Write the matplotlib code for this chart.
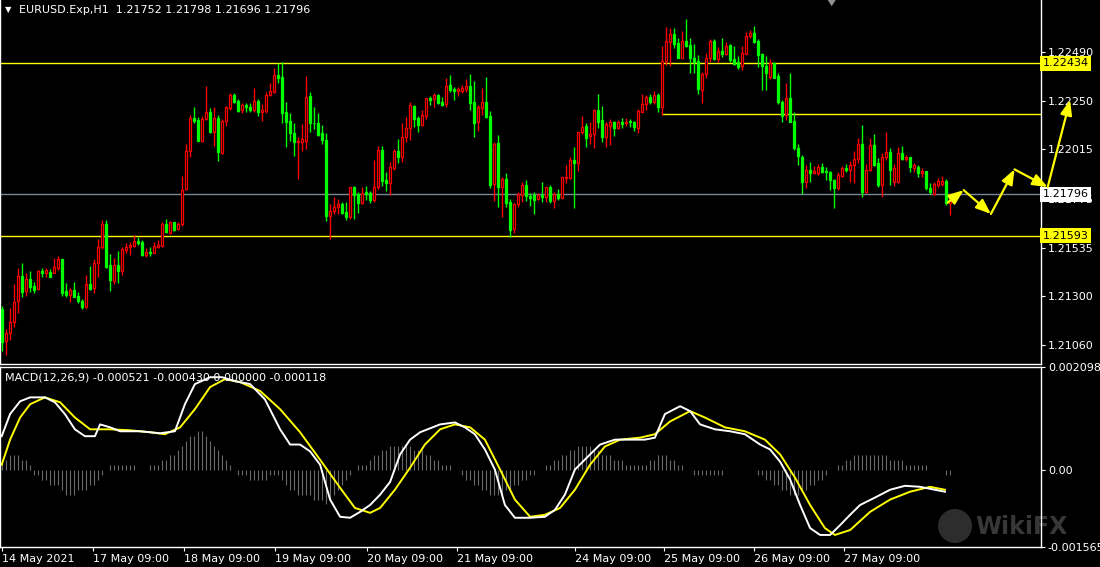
import numpy as np
import matplotlib.pyplot as plt
from matplotlib.patches import Rectangle, Ellipse, Polygon
import matplotlib.transforms as mtransforms

# ---- data (prices in points, 1 point = 0.00001) ----
chart_title = "EURUSD.Exp,H1  1.21752 1.21798 1.21696 1.21796"
macd_title = "MACD(12,26,9) -0.000521 -0.000430 0.000000 -0.000118"

opens = [
    121235, 121083, 121118, 121175, 121277, 121398, 121326, 121381, 121349, 121333,
    121424, 121411, 121415, 121414, 121438, 121480, 121324, 121305, 121329, 121300,
    121276, 121248, 121359, 121337, 121459, 121537, 121651, 121451, 121375, 121449,
    121422, 121524, 121540, 121545, 121568, 121563, 121500, 121514, 121511, 121540,
    121545, 121651, 121609, 121659, 121626, 121649, 121820, 122006, 122165, 122157,
    122057, 122161, 122195, 122101, 122165, 121995, 122152, 122214, 122279, 122250,
    122206, 122230, 122222, 122206, 122250, 122198, 122203, 122279, 122295, 122377,
    122365, 122195, 122152, 122092, 122049, 122049, 122057, 122274, 122144, 122141,
    122092, 122060, 121691, 121716, 121735, 121748, 121708, 121687, 121829, 121797,
    121751, 121805, 121800, 121768, 121829, 122011, 121865, 121852, 121925, 122006,
    121979, 122076, 122117, 122227, 122169, 122133, 122177, 122263, 122258, 122279,
    122247, 122235, 122328, 122307, 122300, 122300, 122307, 122323, 122243, 122146,
    122217, 122243, 122177, 121844, 122044, 121833, 121868, 121756, 121625, 121747,
    121792, 121841, 121789, 121792, 121773, 121792, 121784, 121830, 121765, 121796,
    121779, 121873, 121877, 121963, 121950, 122098, 122128, 122081, 122088, 122206,
    122158, 122076, 122128, 122149, 122117, 122149, 122141, 122153, 122149, 122120,
    122198, 122234, 122271, 122244, 122279, 122219, 122445, 122539, 122575, 122533,
    122461, 122542, 122523, 122458, 122445, 122304, 122380, 122458, 122542, 122455,
    122494, 122479, 122523, 122455, 122438, 122422, 122479, 122567, 122580, 122542,
    122477, 122422, 122368, 122437, 122372, 122247, 122182, 122263, 122152, 122019,
    121979, 121857, 121914, 121901, 121898, 121930, 121911, 121904, 121865, 121828,
    121886, 121922, 121914, 121938, 121966, 122040, 121808, 121914, 122036, 121946,
    121841, 121976, 122003, 121857, 121857, 121995, 121967, 121979, 121922, 121930,
    121898, 121909, 121828, 121797, 121841, 121844, 121860, 121752,
]
highs = [
    121251, 121138, 121240, 121357, 121435, 121459, 121411, 121422, 121370, 121427,
    121435, 121435, 121430, 121484, 121495, 121480, 121365, 121337, 121368, 121321,
    121284, 121402, 121446, 121479, 121576, 121670, 121670, 121505, 121484, 121519,
    121540, 121557, 121561, 121597, 121589, 121573, 121532, 121537, 121565, 121573,
    121662, 121674, 121665, 121662, 121662, 121885, 122040, 122182, 122219, 122170,
    122177, 122323, 122214, 122219, 122182, 122161, 122226, 122287, 122290, 122258,
    122238, 122238, 122238, 122315, 122258, 122234, 122295, 122339, 122409, 122437,
    122442, 122247, 122190, 122141, 122076, 122138, 122372, 122295, 122222, 122193,
    122133, 122096, 121748, 121781, 121771, 121760, 121756, 121833, 121838, 121808,
    121829, 121836, 121812, 121962, 122031, 122031, 121902, 121951, 122015, 122065,
    122141, 122170, 122245, 122230, 122177, 122206, 122263, 122274, 122287, 122284,
    122268, 122364, 122377, 122320, 122320, 122328, 122355, 122381, 122347, 122230,
    122312, 122365, 122201, 122052, 122084, 121881, 121898, 121771, 121751, 121808,
    121857, 121865, 121800, 121808, 121800, 121854, 121833, 121841, 121805, 121822,
    121882, 121938, 121979, 122024, 122101, 122177, 122141, 122146, 122211, 122284,
    122226, 122146, 122161, 122153, 122158, 122166, 122169, 122161, 122153, 122210,
    122283, 122279, 122283, 122299, 122288, 122518, 122612, 122604, 122607, 122555,
    122591, 122650, 122559, 122528, 122474, 122393, 122486, 122552, 122552, 122512,
    122559, 122536, 122526, 122520, 122471, 122518, 122585, 122596, 122615, 122552,
    122486, 122471, 122453, 122442, 122385, 122255, 122336, 122385, 122198, 122039,
    121987, 121938, 121951, 121933, 121941, 121950, 121930, 121909, 121868, 121906,
    121933, 121941, 121959, 122008, 122071, 122133, 121943, 122068, 122089, 121971,
    121995, 122101, 122019, 121943, 122027, 122031, 121987, 121979, 121950, 121938,
    121922, 121909, 121849, 121857, 121873, 121885, 121868, 121798,
]
lows = [
    121034, 121013, 121086, 121148, 121219, 121297, 121300, 121318, 121313, 121329,
    121394, 121394, 121391, 121411, 121427, 121300, 121294, 121272, 121294, 121264,
    121238, 121243, 121329, 121316, 121394, 121531, 121435, 121326, 121359, 121365,
    121402, 121508, 121500, 121540, 121549, 121495, 121488, 121495, 121508, 121532,
    121537, 121605, 121602, 121618, 121622, 121643, 121816, 121979, 122141, 122055,
    122052, 122157, 122096, 122031, 121959, 121990, 122128, 122206, 122238, 122198,
    122193, 122198, 122198, 122198, 122177, 122154, 122193, 122274, 122287, 122336,
    122144, 122027, 122057, 121984, 121868, 122006, 122018, 122101, 122114, 122079,
    122040, 121665, 121578, 121700, 121700, 121700, 121670, 121674, 121675, 121706,
    121748, 121768, 121751, 121760, 121821, 121838, 121813, 121792, 121914, 121946,
    121954, 122052, 122060, 122122, 122099, 122128, 122161, 122230, 122222, 122235,
    122227, 122219, 122295, 122255, 122276, 122287, 122295, 122206, 122076, 122105,
    122182, 122165, 121828, 121764, 121735, 121687, 121732, 121589, 121609, 121735,
    121760, 121763, 121740, 121700, 121768, 121757, 121757, 121752, 121731, 121768,
    121776, 121849, 121870, 121731, 121911, 122088, 122028, 122039, 122020, 122120,
    122052, 122028, 122036, 122081, 122114, 122117, 122128, 122125, 122104, 122096,
    122195, 122206, 122234, 122234, 122195, 122182, 122426, 122422, 122510, 122458,
    122458, 122512, 122385, 122385, 122283, 122242, 122361, 122442, 122450, 122442,
    122466, 122474, 122442, 122426, 122404, 122401, 122477, 122559, 122531, 122417,
    122304, 122304, 122355, 122360, 122235, 122149, 122157, 122149, 122011, 121938,
    121797, 121828, 121857, 121893, 121889, 121898, 121865, 121816, 121730, 121816,
    121881, 121906, 121857, 121849, 121950, 121784, 121803, 121909, 121933, 121833,
    121781, 121962, 121841, 121836, 121849, 121962, 121959, 121906, 121906, 121881,
    121878, 121816, 121797, 121792, 121833, 121838, 121743, 121696,
]
closes = [
    121078, 121118, 121175, 121272, 121398, 121321, 121381, 121346, 121329, 121422,
    121414, 121427, 121394, 121443, 121479, 121313, 121305, 121329, 121297, 121276,
    121248, 121357, 121334, 121459, 121537, 121651, 121443, 121378, 121451, 121422,
    121527, 121539, 121549, 121568, 121557, 121500, 121514, 121511, 121545, 121549,
    121651, 121610, 121659, 121622, 121651, 121816, 122006, 122165, 122152, 122057,
    122161, 122195, 122101, 122165, 122003, 122152, 122219, 122279, 122247, 122203,
    122230, 122222, 122206, 122250, 122198, 122206, 122279, 122299, 122377, 122364,
    122193, 122149, 122092, 122052, 122057, 122065, 122268, 122144, 122141, 122084,
    122060, 121691, 121716, 121732, 121748, 121706, 121687, 121829, 121792, 121751,
    121803, 121797, 121768, 121829, 122011, 121862, 121852, 121927, 122006, 121979,
    122076, 122117, 122230, 122162, 122133, 122182, 122263, 122255, 122279, 122238,
    122230, 122323, 122304, 122300, 122308, 122315, 122323, 122242, 122144, 122219,
    122243, 122170, 121841, 122040, 121833, 121868, 121755, 121622, 121748, 121797,
    121841, 121789, 121776, 121768, 121792, 121784, 121830, 121765, 121796, 121776,
    121878, 121878, 121963, 121950, 122098, 122122, 122072, 122089, 122206, 122149,
    122076, 122138, 122149, 122120, 122146, 122138, 122146, 122146, 122122, 122201,
    122234, 122271, 122247, 122279, 122219, 122445, 122542, 122575, 122528, 122461,
    122542, 122518, 122458, 122438, 122309, 122382, 122458, 122542, 122455, 122494,
    122477, 122518, 122450, 122430, 122417, 122482, 122567, 122580, 122539, 122474,
    122421, 122388, 122437, 122364, 122247, 122177, 122263, 122149, 122019, 121982,
    121857, 121914, 121901, 121909, 121930, 121906, 121906, 121865, 121828, 121889,
    121922, 121914, 121938, 121966, 122039, 121808, 121914, 122036, 121938, 121841,
    121976, 122003, 121914, 121922, 121995, 121967, 121979, 121927, 121938, 121898,
    121909, 121825, 121808, 121844, 121860, 121860, 121755, 121796,
]

# horizontal levels and the drawn arrow path (bar index, price)
level_top = 1.22434
level_low = 1.21593
level_mid = 1.22185
level_mid_start = 165
bid_price = 1.21796
arrow_bars = [236.5, 240.5, 247.3, 253.2, 261.5, 267.1]
arrow_prices = [1.21755, 1.21816, 1.21700, 1.21917, 1.21831, 1.22255]

price_ticks = [1.22490, 1.22250, 1.22015, 1.21775, 1.21535, 1.21300, 1.21060]

# MACD panel, values in units of 0.0001
white_bars = [0, 2.1, 4.6, 7.1, 10.8, 13.3, 15.8, 18.3, 20.8, 23.3,
              24.6, 27.1, 29.6, 34.6, 39.6, 43.3, 45.8, 48.3, 52.1, 55.1,
              58.3, 62.1, 65.8, 69.6, 72.1, 74.6, 77.1, 79.6, 82.1, 84.6,
              87.1, 89.6, 92.1, 94.6, 97.1, 99.6, 102.1, 104.6, 109.6, 113.3,
              115.8, 118.3, 120.8, 123.3, 125.8, 128.3, 132.1, 135.8, 138.3, 140.8,
              143.3, 147.1, 149.6, 153.3, 157.1, 160.8, 163.3, 165.8, 169.6, 172.1,
              174.6, 178.3, 182.1, 185.8, 189.6, 192.1, 194.6, 197.1, 199.6, 202.1,
              204.6, 207.1, 209.6, 212.1, 214.6, 218.3, 222.1, 225.8, 229.6, 233.3,
              235.8]
white_vals = [6.9, 11.4, 14.0, 14.8, 14.8, 13.8, 11.4, 8.3, 6.9, 6.9,
              9.3, 8.7, 7.9, 7.9, 7.5, 7.9, 13.4, 17.5, 18.9, 18.9,
              18.1, 17.5, 14.4, 8.3, 5.2, 5.2, 3.8, 1.1, -6.0, -9.5,
              -9.7, -8.5, -7.1, -5.0, -2.4, 3.2, 6.2, 7.7, 9.3, 9.7,
              8.7, 7.3, 4.2, 0.1, -7.1, -9.7, -9.7, -9.5, -8.1, -5.0,
              0.1, 3.2, 5.2, 6.2, 6.2, 6.2, 6.6, 11.4, 13.0, 12.0,
              9.3, 8.3, 7.9, 7.3, 5.2, 4.2, 1.7, -1.9, -7.1, -11.8,
              -13.2, -13.2, -11.2, -9.1, -7.1, -5.6, -4.0, -3.2, -3.4, -4.0,
              -4.4]
yellow_bars = [0, 2.1, 4.6, 7.1, 10.8, 14.6, 18.3, 22.1, 27.1, 32.1,
               37.1, 40.8, 44.6, 48.3, 52.1, 55.8, 59.6, 64.6, 69.6, 74.6,
               79.6, 84.6, 88.3, 92.1, 94.6, 98.3, 102.1, 105.8, 109.6, 113.3,
               117.1, 120.8, 124.6, 128.3, 132.1, 135.8, 139.6, 143.3, 147.1, 150.8,
               154.6, 159.6, 163.3, 167.1, 172.1, 175.8, 180.8, 185.8, 190.8, 194.6,
               198.3, 202.1, 205.8, 208.3, 212.1, 217.1, 222.1, 227.1, 232.1, 235.8]
yellow_vals = [1.1, 6.2, 10.7, 13.4, 14.8, 13.8, 10.7, 8.3, 8.3, 8.1,
               7.7, 7.3, 8.7, 12.4, 16.9, 18.5, 17.9, 16.1, 12.4, 7.7,
               2.1, -3.6, -7.7, -8.7, -7.7, -4.0, 0.5, 5.2, 8.3, 9.3,
               8.7, 6.2, 0.1, -6.0, -9.5, -9.1, -7.7, -4.0, 1.1, 4.8,
               6.2, 6.6, 7.3, 9.9, 12.0, 10.7, 8.7, 7.9, 6.2, 3.2,
               -1.5, -7.1, -11.8, -13.2, -12.2, -8.5, -6.0, -4.4, -3.4, -4.0]
hist_vals = [2, 2, 3, 3, 3, 2, 2, 1,
             -1, -1, -2, -2, -3, -3, -3,
             -4, -5, -5, -5, -4, -4, -4, -3, -3, -2, -1, 0, 1, 1,
             1, 1, 1, 1, 1, 0, 0, 0, 1, 1, 1, 2, 2, 3, 3,
             4, 5, 6, 7, 7, 8, 8, 7, 6, 5, 4,
             3, 2, 1, 0, -1, -1, -1, -2, -2, -2, -2, -2, -1, -1,
             -1, -2, -3, -4, -4, -5, -5, -5, -5, -6, -6, -6, -7, -6,
             -5, -4, -3, -2, -1, 0, 1, 1, 1, 2,
             3, 3, 4, 4, 5, 5, 5, 5, 5, 5, 4, 4, 4, 3, 3, 2, 2, 1,
             1, 1, 0, 0, -1, -2, -2, -3, -3, -4, -4, -5,
             -5, -5, -5, -4, -4, -3, -3, -2, -2, -1, -1, 0, 0,
             1, 1, 2, 2, 3, 3, 4, 4, 5, 5, 5, 5, 4, 4, 3, 3, 3, 2, 2, 2, 1,
             1, 1, 1, 1, 1, 2, 2, 3, 3, 3, 2, 2, 1, 1,
             0, 0, -1, -1, -1, -1, -1, -1, -1, -1, 0, 0, 0, 0, 0,
             0, 0, 0, -1, -1, -2, -2, -3, -3, -4, -4, -5, -5, -5, -4, -4, -3, -3, -2, -2,
             -1, 0, 0, 1, 1, 2, 2, 3, 3, 3, 3, 3, 3, 3, 3, 3, 2, 2, 2, 2, 1, 1, 1, 1, 1, 1,
             0, 0, 0, 0, -1, -1]
macd_top = 0.002098
macd_bottom = -0.001565

date_bars = [0, 22.75, 45.5, 68.4, 91.25, 113.9, 143.3, 165.65, 188.1, 210.5]
date_labels = ["14 May 2021", "17 May 09:00", "18 May 09:00", "19 May 09:00",
               "20 May 09:00", "21 May 09:00", "24 May 09:00", "25 May 09:00",
               "26 May 09:00", "27 May 09:00"]

# ---- figure ----
W, H = 1100, 567
BULL = "#ff0000"
BEAR = "#00ff00"
YEL = "#ffff00"
FS = 8

fig = plt.figure(figsize=(W / 100, H / 100), dpi=100, facecolor="black")
ax = fig.add_axes([0, 1 - 364 / H, 1041 / W, 364 / H], facecolor="black")
axm = fig.add_axes([0, 1 - 547 / H, 1041 / W, (547 - 367) / H], facecolor="black")

o = np.array(opens) / 1e5
h = np.array(highs) / 1e5
l = np.array(lows) / 1e5
c = np.array(closes) / 1e5
x = np.arange(len(o))

# candles: bullish = hollow red, bearish = filled green
for i in x:
    up = c[i] >= o[i]
    col = BULL if up else BEAR
    top, bot = max(o[i], c[i]), min(o[i], c[i])
    ax.vlines(i, min(l[i], bot), max(h[i], top), color=col, lw=1.0, zorder=3)
    if top - bot < 0.000015:
        ax.hlines(top, i - 0.4, i + 0.4, color=col, lw=1.0, zorder=4)
    else:
        ax.add_patch(Rectangle((i - 0.3, bot), 0.6, top - bot,
                               facecolor="black" if up else BEAR,
                               edgecolor=col, lw=0.9, zorder=4))

ax.axhline(level_top, color=YEL, lw=1.0, zorder=2)
ax.axhline(level_low, color=YEL, lw=1.0, zorder=2)
ax.axhline(bid_price, color="#778899", lw=1.0, zorder=2)
ax.hlines(level_mid, level_mid_start, 262, color=YEL, lw=1.0, zorder=2)

# drawn arrows
for j in range(len(arrow_bars) - 1):
    ax.annotate("", xy=(arrow_bars[j + 1], arrow_prices[j + 1]),
                xytext=(arrow_bars[j], arrow_prices[j]),
                arrowprops=dict(arrowstyle="-|>,head_length=0.9,head_width=0.35",
                                color=YEL, lw=1.6, shrinkA=0, shrinkB=0),
                annotation_clip=False, zorder=10)

ax.set_xlim(-0.425, 259.825)
ax.set_ylim(1.20969, 1.22742)
ax.yaxis.tick_right()
ax.set_yticks(price_ticks)
ax.set_yticklabels(["%.5f" % v for v in price_ticks])
ax.set_xticks([])
ax.tick_params(axis="y", colors="white", labelsize=FS, length=3, width=0.8, pad=2)
ax.spines["top"].set_visible(False)
for s in ["right", "bottom", "left"]:
    ax.spines[s].set_color("white")
    ax.spines[s].set_linewidth(1.0)

# shift marker at the top
ax.add_patch(Polygon([[206.5, 1.22742], [208.5, 1.22742], [207.5, 1.22712]],
                     closed=True, facecolor="#909090", edgecolor="none", zorder=6))

# price boxes on the right
tr = mtransforms.blended_transform_factory(ax.transAxes, ax.transData)
for val, fc in [(level_top, YEL), (level_low, YEL), (bid_price, "white")]:
    ax.text(1.0015, val, "%.5f" % val, transform=tr, fontsize=FS, color="black",
            va="center", ha="left", zorder=8,
            bbox=dict(boxstyle="square,pad=0.22", facecolor=fc, edgecolor="none"))

# ---- MACD panel ----
hv = np.array(hist_vals) * 1e-4
axm.vlines(x, 0, hv, color="#6a6a6a", lw=0.8, zorder=1)
axm.plot(white_bars, np.array(white_vals) * 1e-4, color="white", lw=1.4, zorder=3)
axm.plot(yellow_bars, np.array(yellow_vals) * 1e-4, color=YEL, lw=1.4, zorder=2)
axm.set_xlim(-0.425, 259.825)
axm.set_ylim(macd_bottom, macd_top)
axm.yaxis.tick_right()
axm.set_yticks([macd_top, 0.0, macd_bottom])
axm.set_yticklabels(["0.002098", "0.00", "-0.001565"])
axm.set_xticks(date_bars)
axm.set_xticklabels(date_labels)
for lbl in axm.get_xticklabels():
    lbl.set_horizontalalignment("left")
axm.tick_params(colors="white", labelsize=FS, length=3, width=0.8, pad=2)
for s in axm.spines.values():
    s.set_color("white")
    s.set_linewidth(1.0)

# ---- texts ----
fig.text(5 / W, 1 - 10 / H, "\u25bc", color="white", fontsize=6, va="center", ha="left")
fig.text(19 / W, 1 - 10 / H, chart_title, color="white", fontsize=FS, va="center", ha="left")
fig.text(5 / W, 1 - 377 / H, macd_title, color="white", fontsize=FS, va="center", ha="left")

# watermark
fig.patches.append(Ellipse((955 / W, 1 - 526 / H), 34 / W, 34 / H, transform=fig.transFigure,
                           facecolor="#ffffff", alpha=0.18, edgecolor="none"))
fig.text(975 / W, 1 - 527 / H, "WikiFX", color="#ffffff", alpha=0.22, fontsize=17,
         fontweight="bold", va="center", ha="left")

fig.savefig("out.png", dpi=100, facecolor="black")
